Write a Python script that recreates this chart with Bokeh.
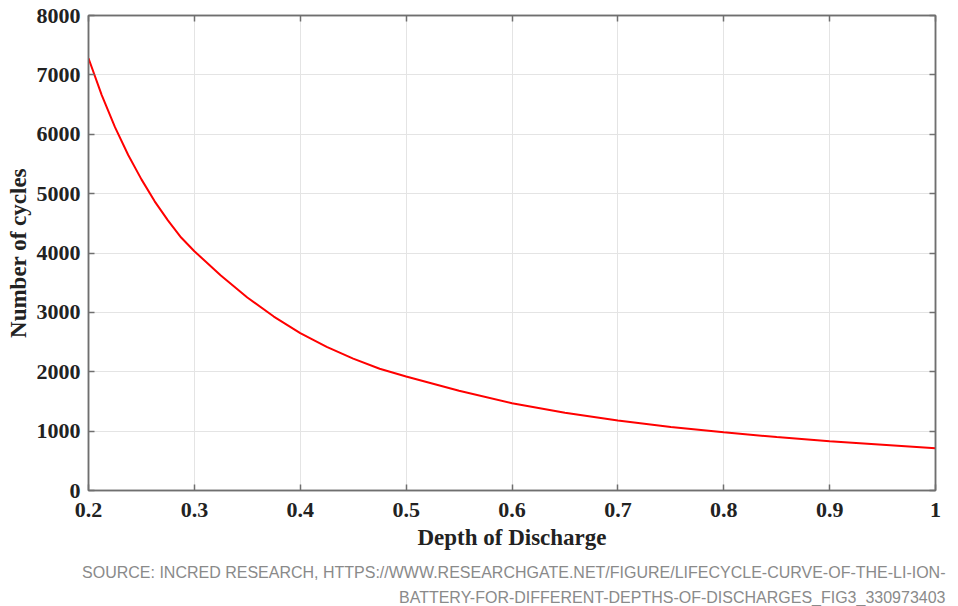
from bokeh.plotting import figure
from bokeh.models import FixedTicker, LinearAxis, Title, CustomJSTickFormatter, Range1d
from bokeh.embed import file_html
from bokeh.resources import INLINE

# Data
depth_of_discharge = [0.2, 0.2125, 0.225, 0.2375, 0.25, 0.2625, 0.275, 0.2875, 0.3,
                      0.325, 0.35, 0.375, 0.4, 0.425, 0.45, 0.475, 0.5, 0.55,
                      0.6, 0.65, 0.7, 0.75, 0.8, 0.85, 0.9, 0.95, 1.0]
number_of_cycles = [7280, 6660, 6120, 5650, 5240, 4870, 4550, 4260, 4030,
                    3620, 3250, 2930, 2650, 2420, 2220, 2050, 1920, 1680,
                    1470, 1310, 1178, 1070, 982, 900, 830, 770, 710]
x_ticks = [0.2, 0.3, 0.4, 0.5, 0.6, 0.7, 0.8, 0.9, 1.0]
y_ticks = [0, 1000, 2000, 3000, 4000, 5000, 6000, 7000, 8000]
source_lines = ["SOURCE: INCRED RESEARCH, HTTPS://WWW.RESEARCHGATE.NET/FIGURE/LIFECYCLE-CURVE-OF-THE-LI-ION-",
                "BATTERY-FOR-DIFFERENT-DEPTHS-OF-DISCHARGES_FIG3_330973403"]

SERIF = "Liberation Serif"
AX = "#6f6f6f"

p = figure(width=952, height=606, output_backend="svg", toolbar_location=None,
           x_range=Range1d(0.2, 1.0), y_range=Range1d(0, 8000),
           min_border_left=88, min_border_right=17, min_border_top=15, min_border_bottom=116,
           x_axis_label="Depth of Discharge", y_axis_label="Number of cycles")
p.outline_line_color = AX
p.outline_line_width = 1.5
p.background_fill_color = "white"
p.border_fill_color = "white"

p.line(depth_of_discharge, number_of_cycles, line_color="#ff0000", line_width=2)

for g in (p.xgrid[0], p.ygrid[0]):
    g.grid_line_color = "#e4e4e4"
    g.grid_line_width = 1
p.xgrid[0].ticker = FixedTicker(ticks=x_ticks)
p.ygrid[0].ticker = FixedTicker(ticks=y_ticks)

def style(ax, show_labels=True):
    ax.axis_line_color = AX
    ax.axis_line_width = 1.5
    ax.major_tick_line_color = AX
    ax.major_tick_line_width = 1.5
    ax.major_tick_in = 6
    ax.major_tick_out = 0
    ax.minor_tick_line_color = None
    ax.major_label_text_font = SERIF
    ax.major_label_text_font_style = "bold"
    ax.major_label_text_color = "#222222"
    ax.major_label_text_font_size = "22px" if show_labels else "0px"
    ax.axis_label_text_font = SERIF
    ax.axis_label_text_font_style = "bold"
    ax.axis_label_text_font_size = "23px"
    ax.axis_label_text_color = "#222222"

xa = p.xaxis[0]
ya = p.yaxis[0]
xa.ticker = FixedTicker(ticks=x_ticks)
ya.ticker = FixedTicker(ticks=y_ticks)
xa.formatter = CustomJSTickFormatter(code="return String(Math.round(tick*10)/10)")
style(xa)
style(ya)
xa.major_label_standoff = 12
xa.axis_label_standoff = 5
ya.major_label_standoff = 8
ya.axis_label_standoff = 3

top = LinearAxis(ticker=FixedTicker(ticks=x_ticks))
right = LinearAxis(ticker=FixedTicker(ticks=y_ticks))
for ax in (top, right):
    style(ax, show_labels=False)
    ax.major_label_standoff = 0
p.add_layout(top, "above")
p.add_layout(right, "right")

for line, standoff in zip(source_lines, [19, -8]):
    t = Title(text=line, align="right", offset=-10, text_font="Liberation Sans",
              text_font_size="16px", text_font_style="normal", text_color="#8a8a8a",
              standoff=standoff)
    p.add_layout(t, "below")

open("out.html", "w").write(file_html(p, INLINE))
